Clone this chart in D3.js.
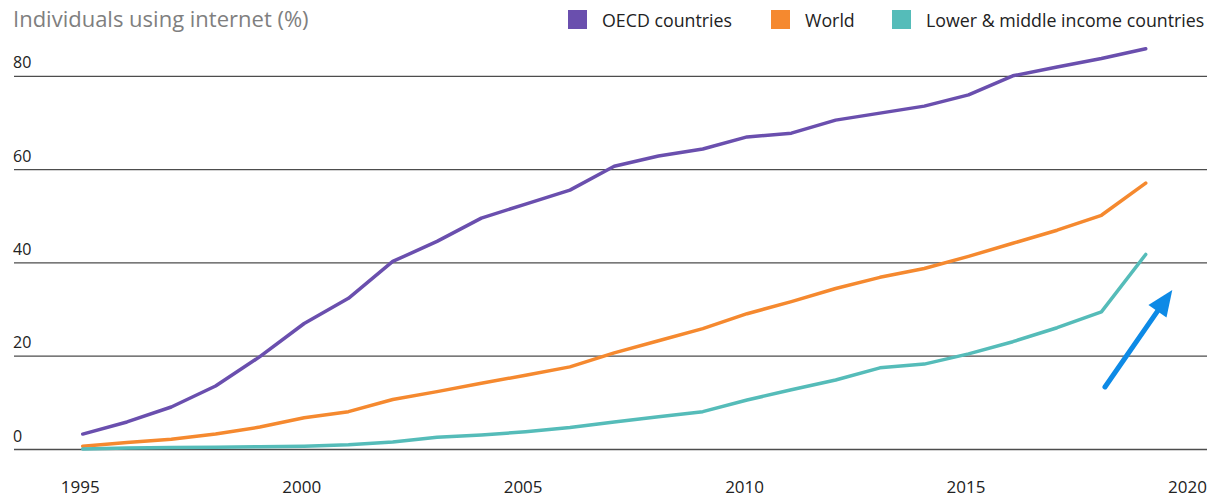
<!DOCTYPE html>
<html>
<head>
<meta charset="utf-8">
<script src="https://cdn.jsdelivr.net/npm/d3@7"></script>
<style>
  html, body { margin: 0; padding: 0; background: #fff; }
  svg { display: block; font-family: "Open Sans", "Noto Sans", sans-serif; }
</style>
</head>
<body>
<svg id="chart" width="1207" height="497"></svg>
<script>
const years = d3.range(1995, 2020);
const oecd = [3.2, 5.8, 9.0, 13.5, 19.8, 26.9, 32.3, 40.2, 44.5, 49.5, 52.5, 55.5, 60.6, 62.8, 64.3, 66.9, 67.7, 70.5, 72.0, 73.5, 75.9, 80.0, 81.9, 83.7, 85.8];
const world = [0.6, 1.4, 2.1, 3.2, 4.7, 6.7, 8.0, 10.6, 12.3, 14.1, 15.8, 17.6, 20.6, 23.2, 25.8, 29.0, 31.6, 34.4, 36.8, 38.7, 41.3, 44.1, 46.9, 50.1, 57.0];
const lmic = [0.0, 0.2, 0.3, 0.4, 0.5, 0.6, 0.9, 1.5, 2.5, 3.0, 3.7, 4.6, 5.8, 6.9, 8.0, 10.5, 12.7, 14.8, 17.4, 18.2, 20.4, 23.0, 26.0, 29.4, 41.7];
const yTicks = [0, 20, 40, 60, 80];
const xTicks = [1995, 2000, 2005, 2010, 2015, 2020];
const seriesNames = ["OECD countries", "World", "Lower & middle income countries"];
const seriesColors = ["#6a4fae", "#f5892f", "#55bcb9"];
const titleText = "Individuals using internet (%)";
// annotation arrow (in data units)
const arrowFrom = [2018.08, 13.3];
const arrowTo = [2019.6, 34.1];

const svg = d3.select("#chart");
const x = d3.scaleLinear().domain([1995, 2020]).range([82.7, 1190]);
const y = d3.scaleLinear().domain([0, 80]).range([449, 75.8]);

// title
svg.append("text").attr("x", 13).attr("y", 27).attr("fill", "#7f7f7f")
  .attr("font-size", 22).text(titleText);

// gridlines + y labels
const yAxis = d3.axisLeft(y).tickValues(yTicks).tickSize(-(1207 - 14)).tickFormat(d3.format("d"));
const gy = svg.append("g").attr("transform", "translate(14,0)").call(yAxis);
gy.select(".domain").remove();
gy.selectAll(".tick line").attr("stroke", "#4d4d4d").attr("stroke-width", 1.3);
gy.selectAll(".tick text").attr("x", -1).attr("dy", -8).attr("text-anchor", "start")
  .attr("font-size", 16).attr("fill", "#222").attr("font-family", "Open Sans, sans-serif")
  .attr("y", 0);

// x labels
const xAxis = d3.axisBottom(x).tickValues(xTicks).tickSize(0).tickFormat(d3.format("d"));
const gx = svg.append("g").attr("transform", "translate(-3,0)").call(xAxis);
gx.select(".domain").remove();
gx.selectAll(".tick text").attr("y", 493).attr("dy", 0).attr("font-size", 17)
  .attr("fill", "#222").attr("font-family", "Open Sans, sans-serif");

// lines
const line = d3.line().x((d, i) => x(years[i])).y(d => y(d));
[oecd, world, lmic].forEach((s, k) => {
  svg.append("path").datum(s).attr("d", line).attr("fill", "none")
    .attr("stroke", seriesColors[k]).attr("stroke-width", 3.5)
    .attr("stroke-linejoin", "round").attr("stroke-linecap", "round");
});

// legend
const legendX = [568, 771, 892];
seriesNames.forEach((n, k) => {
  svg.append("rect").attr("x", legendX[k]).attr("y", 10).attr("width", 19).attr("height", 19)
    .attr("fill", seriesColors[k]);
  svg.append("text").attr("x", legendX[k] + 34).attr("y", 27).attr("font-size", 17.8)
    .attr("fill", "#222").text(n);
});

// arrow
const ax1 = x(arrowFrom[0]), ay1 = y(arrowFrom[1]), ax2 = x(arrowTo[0]), ay2 = y(arrowTo[1]);
const ang = Math.atan2(ay2 - ay1, ax2 - ax1);
svg.append("line").attr("x1", ax1).attr("y1", ay1)
  .attr("x2", ax2 - 14 * Math.cos(ang)).attr("y2", ay2 - 14 * Math.sin(ang))
  .attr("stroke", "#0d8ae6").attr("stroke-width", 5).attr("stroke-linecap", "round");
svg.append("path")
  .attr("d", () => {
    const L = 26, W = 11;
    const bx = ax2 - L * Math.cos(ang), by = ay2 - L * Math.sin(ang);
    const px = -Math.sin(ang), py = Math.cos(ang);
    return `M${ax2},${ay2} L${bx + W * px},${by + W * py} L${bx - W * px},${by - W * py} Z`;
  })
  .attr("fill", "#0d8ae6");
</script>
</body>
</html>
